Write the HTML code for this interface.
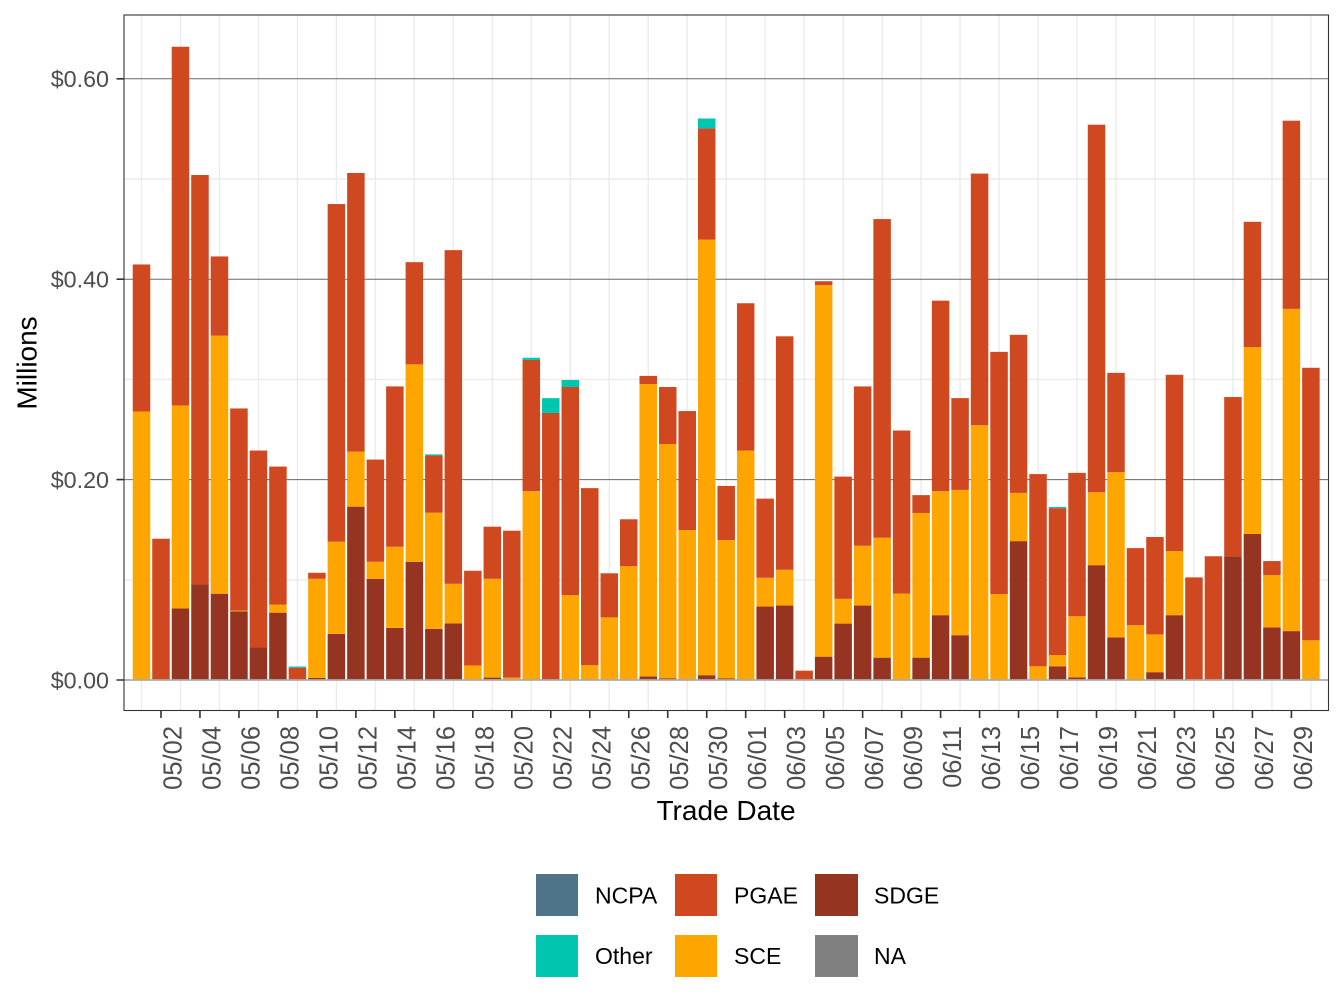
<!DOCTYPE html>
<html><head><meta charset="utf-8"><style>
html,body{margin:0;padding:0;background:#fff;}
svg{display:block;}
text{font-family:"Liberation Sans",Arial,sans-serif;}
</style></head><body>
<svg width="1344" height="1008" viewBox="0 0 1344 1008" xmlns="http://www.w3.org/2000/svg">
<rect x="0" y="0" width="1344" height="1008" fill="#fff"/>
<!-- minor gridlines -->
<g stroke="#EBEBEB" stroke-width="1.4" fill="none">
<path d="M124 579.8H1328M124 379.4H1328M124 179H1328"/>
<path d="M141.5 15V710M180.48 15V710M219.46 15V710M258.44 15V710M297.42 15V710M336.4 15V710M375.38 15V710M414.36 15V710M453.34 15V710M492.32 15V710M531.3 15V710M570.28 15V710M609.26 15V710M648.24 15V710M687.22 15V710M726.2 15V710M765.18 15V710M804.16 15V710M843.14 15V710M882.12 15V710M921.1 15V710M960.08 15V710M999.06 15V710M1038.04 15V710M1077.02 15V710M1116 15V710M1154.98 15V710M1193.96 15V710M1232.94 15V710M1271.92 15V710M1310.9 15V710"/>
</g>
<!-- major horizontal gridlines -->
<path d="M124 479.6H1328M124 279.2H1328M124 78.8H1328" stroke="#6A6A6A" stroke-width="1" fill="none"/>

<g transform="translate(132.75,680) scale(19.49,-1002)">
<!-- SDGE -->
<g fill="#963422">
<rect x="2" y="0" width=".898" height=".0714"/>
<rect x="3" y="0" width=".898" height=".0954"/>
<rect x="4" y="0" width=".898" height=".0861"/>
<rect x="5" y="0" width=".898" height=".0685"/>
<rect x="6" y="0" width=".898" height=".0324"/>
<rect x="7" y="0" width=".898" height=".0672"/>
<rect x="9" y="0" width=".898" height=".002"/>
<rect x="10" y="0" width=".898" height=".046"/>
<rect x="11" y="0" width=".898" height=".173"/>
<rect x="12" y="0" width=".898" height=".101"/>
<rect x="13" y="0" width=".898" height=".052"/>
<rect x="14" y="0" width=".898" height=".118"/>
<rect x="15" y="0" width=".898" height=".051"/>
<rect x="16" y="0" width=".898" height=".0565"/>
<rect x="18" y="0" width=".898" height=".0024"/>
<rect x="26" y="0" width=".898" height=".0037"/>
<rect x="27" y="0" width=".898" height=".0015"/>
<rect x="29" y="0" width=".898" height=".0048"/>
<rect x="30" y="0" width=".898" height=".0015"/>
<rect x="32" y="0" width=".898" height=".0733"/>
<rect x="33" y="0" width=".898" height=".0743"/>
<rect x="35" y="0" width=".898" height=".0233"/>
<rect x="36" y="0" width=".898" height=".0563"/>
<rect x="37" y="0" width=".898" height=".0743"/>
<rect x="38" y="0" width=".898" height=".0223"/>
<rect x="40" y="0" width=".898" height=".0223"/>
<rect x="41" y="0" width=".898" height=".0647"/>
<rect x="42" y="0" width=".898" height=".0447"/>
<rect x="45" y="0" width=".898" height=".1386"/>
<rect x="47" y="0" width=".898" height=".0137"/>
<rect x="48" y="0" width=".898" height=".0026"/>
<rect x="49" y="0" width=".898" height=".1146"/>
<rect x="50" y="0" width=".898" height=".0425"/>
<rect x="52" y="0" width=".898" height=".0078"/>
<rect x="53" y="0" width=".898" height=".0647"/>
<rect x="56" y="0" width=".898" height=".1235"/>
<rect x="57" y="0" width=".898" height=".1457"/>
<rect x="58" y="0" width=".898" height=".0525"/>
<rect x="59" y="0" width=".898" height=".0488"/>
</g>
<!-- SCE -->
<g fill="#FFA500">
<rect x="0" y="0" width=".898" height=".268"/>
<rect x="2" y=".0714" width=".898" height=".2026"/>
<rect x="4" y=".0861" width=".898" height=".2576"/>
<rect x="5" y=".0685" width=".898" height=".0008"/>
<rect x="7" y=".0672" width=".898" height=".008"/>
<rect x="9" y=".002" width=".898" height=".099"/>
<rect x="10" y=".046" width=".898" height=".092"/>
<rect x="11" y=".173" width=".898" height=".055"/>
<rect x="12" y=".101" width=".898" height=".017"/>
<rect x="13" y=".052" width=".898" height=".081"/>
<rect x="14" y=".118" width=".898" height=".197"/>
<rect x="15" y=".051" width=".898" height=".116"/>
<rect x="16" y=".0565" width=".898" height=".0395"/>
<rect x="17" y="0" width=".898" height=".0145"/>
<rect x="18" y=".0024" width=".898" height=".0986"/>
<rect x="19" y="0" width=".898" height=".0024"/>
<rect x="20" y="0" width=".898" height=".1885"/>
<rect x="22" y="0" width=".898" height=".0847"/>
<rect x="23" y="0" width=".898" height=".0148"/>
<rect x="24" y="0" width=".898" height=".0625"/>
<rect x="25" y="0" width=".898" height=".1135"/>
<rect x="26" y=".0037" width=".898" height=".2917"/>
<rect x="27" y=".0015" width=".898" height=".234"/>
<rect x="28" y="0" width=".898" height=".1497"/>
<rect x="29" y=".0048" width=".898" height=".4348"/>
<rect x="30" y=".0015" width=".898" height=".1382"/>
<rect x="31" y="0" width=".898" height=".229"/>
<rect x="32" y=".0733" width=".898" height=".0287"/>
<rect x="33" y=".0743" width=".898" height=".0357"/>
<rect x="35" y=".0233" width=".898" height=".3707"/>
<rect x="36" y=".0563" width=".898" height=".0247"/>
<rect x="37" y=".0743" width=".898" height=".0597"/>
<rect x="38" y=".0223" width=".898" height=".1197"/>
<rect x="39" y="0" width=".898" height=".0863"/>
<rect x="40" y=".0223" width=".898" height=".1444"/>
<rect x="41" y=".0647" width=".898" height=".1238"/>
<rect x="42" y=".0447" width=".898" height=".145"/>
<rect x="43" y="0" width=".898" height=".2543"/>
<rect x="44" y="0" width=".898" height=".0858"/>
<rect x="45" y=".1386" width=".898" height=".0481"/>
<rect x="46" y="0" width=".898" height=".0137"/>
<rect x="47" y=".0137" width=".898" height=".0111"/>
<rect x="48" y=".0026" width=".898" height=".061"/>
<rect x="49" y=".1146" width=".898" height=".0728"/>
<rect x="50" y=".0425" width=".898" height=".1649"/>
<rect x="51" y="0" width=".898" height=".0547"/>
<rect x="52" y=".0078" width=".898" height=".0377"/>
<rect x="53" y=".0647" width=".898" height=".064"/>
<rect x="57" y=".1457" width=".898" height=".1866"/>
<rect x="58" y=".0525" width=".898" height=".0521"/>
<rect x="59" y=".0488" width=".898" height=".3216"/>
<rect x="60" y="0" width=".898" height=".0396"/>
</g>
<!-- PGAE -->
<g fill="#D04820">
<rect x="0" y=".268" width=".898" height=".1467"/>
<rect x="1" y="0" width=".898" height=".141"/>
<rect x="2" y=".274" width=".898" height=".358"/>
<rect x="3" y=".0954" width=".898" height=".4086"/>
<rect x="4" y=".3437" width=".898" height=".079"/>
<rect x="5" y=".0693" width=".898" height=".2017"/>
<rect x="6" y=".0324" width=".898" height=".1966"/>
<rect x="7" y=".0752" width=".898" height=".1378"/>
<rect x="8" y="0" width=".898" height=".0123"/>
<rect x="9" y=".101" width=".898" height=".006"/>
<rect x="10" y=".138" width=".898" height=".337"/>
<rect x="11" y=".228" width=".898" height=".278"/>
<rect x="12" y=".118" width=".898" height=".102"/>
<rect x="13" y=".133" width=".898" height=".16"/>
<rect x="14" y=".315" width=".898" height=".102"/>
<rect x="15" y=".167" width=".898" height=".057"/>
<rect x="16" y=".096" width=".898" height=".333"/>
<rect x="17" y=".0145" width=".898" height=".0945"/>
<rect x="18" y=".101" width=".898" height=".052"/>
<rect x="19" y=".0024" width=".898" height=".1466"/>
<rect x="20" y=".1885" width=".898" height=".1309"/>
<rect x="21" y="0" width=".898" height=".2665"/>
<rect x="22" y=".0847" width=".898" height=".2077"/>
<rect x="23" y=".0148" width=".898" height=".1767"/>
<rect x="24" y=".0625" width=".898" height=".044"/>
<rect x="25" y=".1135" width=".898" height=".0469"/>
<rect x="26" y=".2954" width=".898" height=".0081"/>
<rect x="27" y=".2355" width=".898" height=".0569"/>
<rect x="28" y=".1497" width=".898" height=".1187"/>
<rect x="29" y=".4396" width=".898" height=".1109"/>
<rect x="30" y=".1397" width=".898" height=".054"/>
<rect x="31" y=".229" width=".898" height=".147"/>
<rect x="32" y=".102" width=".898" height=".079"/>
<rect x="33" y=".110" width=".898" height=".233"/>
<rect x="34" y="0" width=".898" height=".0093"/>
<rect x="35" y=".394" width=".898" height=".004"/>
<rect x="36" y=".081" width=".898" height=".122"/>
<rect x="37" y=".134" width=".898" height=".159"/>
<rect x="38" y=".142" width=".898" height=".318"/>
<rect x="39" y=".0863" width=".898" height=".1627"/>
<rect x="40" y=".1667" width=".898" height=".0178"/>
<rect x="41" y=".1885" width=".898" height=".1901"/>
<rect x="42" y=".1897" width=".898" height=".0916"/>
<rect x="43" y=".2543" width=".898" height=".2511"/>
<rect x="44" y=".0858" width=".898" height=".2417"/>
<rect x="45" y=".1867" width=".898" height=".1578"/>
<rect x="46" y=".0137" width=".898" height=".1918"/>
<rect x="47" y=".0248" width=".898" height=".1467"/>
<rect x="48" y=".0636" width=".898" height=".1431"/>
<rect x="49" y=".1874" width=".898" height=".3668"/>
<rect x="50" y=".2074" width=".898" height=".0991"/>
<rect x="51" y=".0547" width=".898" height=".0769"/>
<rect x="52" y=".0455" width=".898" height=".0972"/>
<rect x="53" y=".1287" width=".898" height=".1759"/>
<rect x="54" y="0" width=".898" height=".1024"/>
<rect x="55" y="0" width=".898" height=".1235"/>
<rect x="56" y=".1235" width=".898" height=".1589"/>
<rect x="57" y=".3323" width=".898" height=".125"/>
<rect x="58" y=".1046" width=".898" height=".0141"/>
<rect x="59" y=".3704" width=".898" height=".1878"/>
<rect x="60" y=".0396" width=".898" height=".272"/>
</g>
<!-- Other -->
<g fill="#00C6B0">
<rect x="8" y=".0123" width=".898" height=".0012"/>
<rect x="15" y=".224" width=".898" height=".0012"/>
<rect x="20" y=".3194" width=".898" height=".0022"/>
<rect x="21" y=".2665" width=".898" height=".0148"/>
<rect x="22" y=".2924" width=".898" height=".007"/>
<rect x="29" y=".5505" width=".898" height=".0099"/>
<rect x="47" y=".1715" width=".898" height=".0012"/>
</g>
</g>
<!-- zero line -->
<path d="M124 680H1328" stroke="#ABABAB" stroke-width="1.8"/>
<!-- panel border -->
<rect x="124" y="15" width="1204.5" height="695.5" fill="none" stroke="#333333" stroke-width="1.1"/>
<!-- y ticks -->
<path d="M116.5 680H124M116.5 479.6H124M116.5 279.2H124M116.5 78.8H124" stroke="#333333" stroke-width="1.6"/>
<g font-size="23.3" fill="#4D4D4D" text-anchor="end">
<text x="109" y="688.3">$0.00</text>
<text x="109" y="487.9">$0.20</text>
<text x="109" y="287.5">$0.40</text>
<text x="109" y="87.1">$0.60</text>
</g>
<!-- x ticks -->
<path stroke="#333333" stroke-width="1.6" d="M160.99 711V718M199.97 711V718M238.95 711V718M277.93 711V718M316.91 711V718M355.89 711V718M394.87 711V718M433.85 711V718M472.83 711V718M511.81 711V718M550.79 711V718M589.77 711V718M628.75 711V718M667.73 711V718M706.71 711V718M745.69 711V718M784.67 711V718M823.65 711V718M862.63 711V718M901.61 711V718M940.59 711V718M979.57 711V718M1018.55 711V718M1057.53 711V718M1096.51 711V718M1135.49 711V718M1174.47 711V718M1213.45 711V718M1252.43 711V718M1291.41 711V718"/>
<g font-size="25.5" fill="#4D4D4D" text-anchor="end">
<text transform="translate(181.49,726) rotate(-90)">05/02</text>
<text transform="translate(220.47,726) rotate(-90)">05/04</text>
<text transform="translate(259.45,726) rotate(-90)">05/06</text>
<text transform="translate(298.43,726) rotate(-90)">05/08</text>
<text transform="translate(337.41,726) rotate(-90)">05/10</text>
<text transform="translate(376.39,726) rotate(-90)">05/12</text>
<text transform="translate(415.37,726) rotate(-90)">05/14</text>
<text transform="translate(454.35,726) rotate(-90)">05/16</text>
<text transform="translate(493.33,726) rotate(-90)">05/18</text>
<text transform="translate(532.31,726) rotate(-90)">05/20</text>
<text transform="translate(571.29,726) rotate(-90)">05/22</text>
<text transform="translate(610.27,726) rotate(-90)">05/24</text>
<text transform="translate(649.25,726) rotate(-90)">05/26</text>
<text transform="translate(688.23,726) rotate(-90)">05/28</text>
<text transform="translate(727.21,726) rotate(-90)">05/30</text>
<text transform="translate(766.19,726) rotate(-90)">06/01</text>
<text transform="translate(805.17,726) rotate(-90)">06/03</text>
<text transform="translate(844.15,726) rotate(-90)">06/05</text>
<text transform="translate(883.13,726) rotate(-90)">06/07</text>
<text transform="translate(922.11,726) rotate(-90)">06/09</text>
<text transform="translate(961.09,726) rotate(-90)">06/11</text>
<text transform="translate(1000.07,726) rotate(-90)">06/13</text>
<text transform="translate(1039.05,726) rotate(-90)">06/15</text>
<text transform="translate(1078.03,726) rotate(-90)">06/17</text>
<text transform="translate(1117.01,726) rotate(-90)">06/19</text>
<text transform="translate(1155.99,726) rotate(-90)">06/21</text>
<text transform="translate(1194.97,726) rotate(-90)">06/23</text>
<text transform="translate(1233.95,726) rotate(-90)">06/25</text>
<text transform="translate(1272.93,726) rotate(-90)">06/27</text>
<text transform="translate(1311.91,726) rotate(-90)">06/29</text>
</g>
<!-- axis titles -->
<text x="726" y="820" font-size="28" fill="#000" text-anchor="middle">Trade Date</text>
<text transform="translate(36.5,363) rotate(-90)" font-size="28" fill="#000" text-anchor="middle">Millions</text>
<!-- legend -->
<rect x="536" y="874" width="42" height="42" fill="#4F7489"/>
<rect x="675" y="874" width="42" height="42" fill="#D04820"/>
<rect x="815" y="874" width="43" height="42" fill="#963422"/>
<rect x="536" y="935" width="42" height="42" fill="#00C6B0"/>
<rect x="675" y="935" width="42" height="42" fill="#FFA500"/>
<rect x="815" y="935" width="43" height="42" fill="#808080"/>
<g font-size="23" fill="#000">
<text x="595" y="903.3">NCPA</text>
<text x="734" y="903.3">PGAE</text>
<text x="874" y="903.3">SDGE</text>
<text x="595" y="964">Other</text>
<text x="734" y="964">SCE</text>
<text x="874" y="964">NA</text>
</g>
</svg>
</body></html>
